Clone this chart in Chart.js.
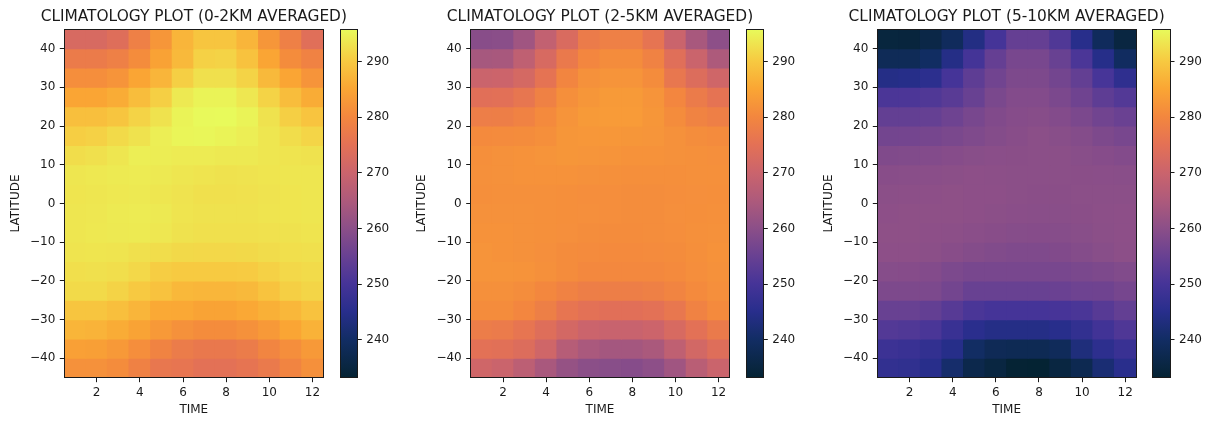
<!DOCTYPE html>
<html><head><meta charset="utf-8">
<script src="https://cdn.jsdelivr.net/npm/chart.js@4.4.1/dist/chart.umd.min.js"></script>
<style>
html,body{margin:0;padding:0;background:#fff;width:1210px;height:423px;overflow:hidden;position:relative}
canvas{position:absolute;top:0}
</style></head><body>
<script>
// ---------------- DATA ----------------
const months = [1, 2, 3, 4, 5, 6, 7, 8, 9, 10, 11, 12];
const latitudes = [42.5, 37.5, 32.5, 27.5, 22.5, 17.5, 12.5, 7.5, 2.5, -2.5, -7.5, -12.5, -17.5, -22.5, -27.5, -32.5, -37.5, -42.5];
const titles = ['CLIMATOLOGY PLOT (0-2KM AVERAGED)', 'CLIMATOLOGY PLOT (2-5KM AVERAGED)', 'CLIMATOLOGY PLOT (5-10KM AVERAGED)'];
const xTicks = [2, 4, 6, 8, 10, 12];
const yTicks = [-40, -30, -20, -10, 0, 10, 20, 30, 40];
const cbTicks = [240, 250, 260, 270, 280, 290];

// rows: north (42.5) -> south (-42.5); columns: months 1..12
const temp0to2km = [
  [272.5, 272.5, 274.0, 278.5, 282.5, 287.3, 289.5, 289.5, 287.3, 282.5, 278.5, 274.3],
  [277.5, 277.5, 278.5, 281.0, 284.5, 287.8, 291.0, 291.2, 289.0, 285.0, 281.0, 279.0],
  [281.3, 281.3, 282.2, 285.0, 287.3, 290.8, 292.8, 292.8, 291.2, 287.8, 285.0, 282.2],
  [285.0, 285.0, 286.0, 288.3, 290.8, 293.8, 295.0, 295.0, 293.6, 291.2, 288.3, 286.0],
  [288.6, 288.6, 289.5, 291.2, 293.0, 295.0, 295.7, 295.8, 295.0, 293.0, 290.8, 289.3],
  [290.6, 291.0, 292.0, 293.0, 294.4, 295.2, 295.3, 295.0, 294.4, 293.4, 292.4, 291.4],
  [292.4, 292.8, 293.4, 294.4, 294.3, 294.0, 294.0, 293.8, 293.8, 293.5, 293.2, 293.0],
  [293.4, 293.7, 293.9, 294.0, 293.8, 293.4, 293.2, 293.0, 293.1, 293.3, 293.5, 293.5],
  [293.3, 293.5, 293.7, 293.8, 293.5, 293.1, 292.8, 292.8, 292.9, 293.1, 293.3, 293.4],
  [293.4, 293.6, 293.9, 294.0, 293.8, 293.2, 293.0, 293.0, 293.0, 293.2, 293.3, 293.4],
  [293.5, 293.7, 293.8, 293.9, 293.6, 293.0, 292.8, 292.7, 292.8, 292.9, 293.0, 293.2],
  [293.2, 293.3, 293.2, 292.7, 292.4, 291.9, 291.8, 291.8, 291.9, 292.3, 292.6, 292.8],
  [292.6, 292.7, 292.5, 291.8, 290.5, 290.2, 290.1, 290.1, 290.3, 291.0, 291.8, 292.2],
  [292.0, 292.0, 291.2, 290.0, 289.0, 287.6, 287.4, 287.4, 287.8, 289.2, 290.8, 291.5],
  [289.5, 289.5, 288.6, 287.3, 285.6, 285.4, 284.6, 284.6, 285.4, 286.5, 287.5, 289.0],
  [287.2, 287.0, 286.0, 284.6, 283.0, 281.8, 281.0, 281.0, 281.8, 283.0, 285.0, 286.8],
  [284.2, 284.0, 283.0, 281.3, 279.3, 277.6, 276.8, 276.8, 277.6, 279.6, 281.3, 283.0],
  [281.8, 281.8, 281.0, 278.8, 276.5, 276.0, 275.0, 275.0, 275.8, 277.2, 279.5, 281.6]
];
const temp2to5km = [
  [259.5, 259.8, 263.0, 268.5, 273.0, 277.5, 278.5, 278.5, 275.8, 270.0, 264.2, 260.2],
  [264.0, 264.3, 268.0, 272.5, 277.0, 280.0, 281.0, 281.0, 279.0, 274.3, 270.0, 265.0],
  [270.0, 270.3, 272.0, 275.5, 279.8, 281.8, 282.3, 282.3, 281.0, 276.5, 273.6, 271.0],
  [274.5, 274.8, 276.3, 278.8, 281.5, 282.5, 283.3, 283.3, 282.3, 280.0, 277.5, 275.5],
  [278.0, 278.2, 279.0, 280.6, 282.2, 283.3, 283.4, 283.4, 282.6, 281.0, 279.2, 278.4],
  [280.6, 280.8, 281.0, 281.5, 282.5, 282.8, 282.8, 282.6, 282.4, 281.8, 281.2, 280.8],
  [281.5, 281.8, 282.0, 282.2, 282.5, 282.4, 282.2, 282.0, 282.0, 281.8, 281.6, 281.4],
  [281.6, 281.8, 282.0, 282.0, 282.0, 281.8, 281.6, 281.5, 281.5, 281.5, 281.6, 281.6],
  [281.5, 281.6, 281.6, 281.6, 281.5, 281.3, 281.3, 281.2, 281.2, 281.3, 281.4, 281.5],
  [281.8, 281.8, 281.7, 281.6, 281.5, 281.4, 281.3, 281.2, 281.2, 281.4, 281.5, 281.6],
  [282.0, 282.0, 281.8, 281.6, 281.4, 281.2, 281.0, 281.0, 281.1, 281.3, 281.6, 281.8],
  [282.2, 282.0, 281.8, 281.4, 281.0, 280.8, 280.6, 280.6, 280.8, 281.0, 281.5, 282.0],
  [282.2, 282.2, 282.1, 281.6, 281.0, 280.3, 280.3, 280.3, 280.3, 280.6, 281.3, 281.8],
  [281.6, 281.6, 281.2, 280.2, 279.0, 278.2, 278.2, 278.2, 278.6, 279.5, 280.6, 281.4],
  [281.0, 281.0, 280.0, 278.3, 276.0, 275.0, 274.5, 274.5, 275.0, 276.5, 279.0, 280.6],
  [277.8, 277.4, 276.0, 274.0, 271.8, 270.2, 269.6, 269.6, 270.3, 272.5, 275.0, 277.3],
  [275.0, 274.6, 273.6, 271.0, 266.5, 264.5, 263.6, 263.6, 264.6, 268.0, 271.6, 274.0],
  [271.0, 270.0, 267.6, 264.4, 261.5, 260.0, 259.6, 259.2, 260.2, 263.0, 267.0, 270.0]
];
const temp5to10km = [
  [234.8, 234.6, 236.0, 239.0, 244.0, 250.0, 254.5, 254.5, 251.5, 245.0, 239.0, 235.2],
  [238.3, 238.3, 239.8, 244.3, 249.8, 254.5, 257.3, 257.3, 255.0, 250.8, 244.7, 239.5],
  [244.3, 244.7, 245.8, 250.0, 253.6, 256.2, 258.0, 258.0, 256.5, 254.3, 250.3, 246.3],
  [250.8, 251.0, 251.5, 252.8, 255.0, 257.5, 258.8, 258.8, 257.7, 256.0, 253.6, 252.0],
  [254.3, 254.3, 254.6, 255.8, 257.3, 258.5, 259.2, 259.4, 258.8, 257.7, 256.2, 255.2],
  [256.6, 256.7, 257.0, 257.5, 258.2, 259.0, 259.5, 260.0, 259.6, 259.0, 258.0, 257.3],
  [258.4, 258.6, 258.8, 259.2, 259.6, 259.8, 259.9, 260.0, 260.0, 259.6, 259.2, 258.8],
  [259.5, 259.7, 259.8, 260.0, 260.2, 260.1, 260.0, 260.0, 260.0, 259.9, 259.8, 259.7],
  [260.0, 260.1, 260.2, 260.4, 260.3, 260.2, 260.0, 259.9, 259.9, 260.0, 260.0, 260.0],
  [260.3, 260.4, 260.4, 260.4, 260.2, 260.0, 259.8, 259.7, 259.7, 259.9, 260.1, 260.2],
  [260.4, 260.4, 260.3, 260.1, 259.8, 259.5, 259.3, 259.2, 259.3, 259.6, 260.0, 260.3],
  [260.3, 260.2, 260.0, 259.5, 259.0, 258.6, 258.3, 258.3, 258.5, 259.0, 259.6, 260.1],
  [259.3, 259.2, 258.8, 257.8, 257.3, 257.2, 257.2, 257.2, 257.3, 257.5, 258.0, 258.6],
  [258.0, 258.0, 257.8, 256.5, 255.0, 255.0, 255.0, 255.0, 255.2, 255.8, 256.0, 257.0],
  [255.0, 255.0, 254.3, 252.5, 250.7, 250.0, 250.0, 250.0, 250.2, 250.7, 252.5, 254.3],
  [252.0, 251.6, 250.7, 248.0, 245.5, 244.3, 244.3, 244.3, 245.0, 246.7, 249.2, 251.4],
  [248.4, 248.0, 246.7, 244.7, 240.0, 238.2, 237.8, 237.8, 238.7, 243.0, 246.0, 248.0],
  [246.7, 246.4, 245.0, 241.0, 236.8, 235.2, 233.4, 233.2, 235.2, 237.5, 242.0, 245.3]
];
const panels = [temp0to2km, temp2to5km, temp5to10km];

// ---------------- STYLE / LAYOUT ----------------
// approximation of the cmocean "thermal" colormap
const thermal = [
  [0.000, 4, 35, 51], [0.030, 9, 38, 64], [0.110, 18, 45, 100], [0.190, 40, 46, 140],
  [0.270, 70, 52, 152], [0.350, 105, 65, 146], [0.430, 140, 79, 136], [0.510, 174, 90, 123],
  [0.590, 203, 100, 108], [0.670, 228, 113, 85], [0.750, 243, 135, 62], [0.830, 250, 166, 52],
  [0.910, 247, 202, 65], [1.000, 232, 250, 91]
];
const allVals = panels.flat(2);
const vmin = Math.min(...allVals), vmax = Math.max(...allVals);
function cmap(t) {
  t = Math.max(0, Math.min(1, t));
  for (let i = 1; i < thermal.length; i++) {
    const a = thermal[i - 1], b = thermal[i];
    if (t <= b[0]) {
      const f = (t - a[0]) / (b[0] - a[0]);
      const c = [1, 2, 3].map(k => Math.round(a[k] + (b[k] - a[k]) * f));
      return `rgb(${c[0]},${c[1]},${c[2]})`;
    }
  }
  const l = thermal[thermal.length - 1];
  return `rgb(${l[1]},${l[2]},${l[3]})`;
}
const colorFor = v => cmap((v - vmin) / (vmax - vmin));
const fmt = v => (v < 0 ? '\u2212' + Math.abs(v) : String(v));

const H = 423, PLOT_TOP = 29.3, PLOT_BOTTOM = 377.7;
const geom = [
  {canvas: 0, left: 64.3, right: 323.3},
  {canvas: 406, left: 470.7, right: 729.3},
  {canvas: 813, left: 877.3, right: 1136.0}
];
const CB_GAP = 16.7, CB_W = 17.3, CANVAS_W = 392;
const INK = '#1a1a1a';
const FONT = "'DejaVu Sans', sans-serif";

Chart.defaults.font.family = FONT;
Chart.defaults.font.size = 12;
Chart.defaults.color = INK;
Chart.defaults.animation = false;
Chart.defaults.events = [];
Chart.defaults.plugins.legend.display = false;
Chart.defaults.plugins.tooltip.enabled = false;

const framePlugin = {
  id: 'frame',
  afterDatasetsDraw(chart) {
    const {ctx, chartArea: a} = chart;
    const l = Math.floor(a.left) + 0.5, r = Math.floor(a.right) + 0.5;
    const t = Math.floor(a.top) + 0.5, b = Math.floor(a.bottom) + 0.5;
    ctx.save();
    ctx.strokeStyle = INK; ctx.lineWidth = 1;
    ctx.strokeRect(l, t, r - l, b - t);
    ctx.restore();
  }
};

function makeCanvas(left, width) {
  const c = document.createElement('canvas');
  c.width = Math.round(width); c.height = H;
  c.style.left = left + 'px';
  document.body.appendChild(c);
  return c;
}

const latStep = Math.abs(latitudes[0] - latitudes[1]);
const monthStep = months[1] - months[0];
const yMin = Math.min(...latitudes) - latStep / 2, yMax = Math.max(...latitudes) + latStep / 2;
const tickGrid = {drawOnChartArea: false, drawTicks: true, tickLength: 4.5, color: INK, lineWidth: 1};

panels.forEach((vals, p) => {
  const g = geom[p];
  const yW = g.left - g.canvas;
  const cv = makeCanvas(g.canvas, CANVAS_W);
  const datasets = latitudes.map((lat, r) => ({
    data: months.map(m => ({x: m, y: [lat - latStep / 2, lat + latStep / 2]})),
    backgroundColor: vals[r].map(colorFor),
    borderWidth: 0,
    grouped: false,
    barPercentage: 1,
    categoryPercentage: 1,
    inflateAmount: 0.5,
    base: yMin - 100   // keep the zero line from being treated as the bar base (avoids a seam at 0)
  }));
  new Chart(cv, {
    type: 'bar',
    data: {datasets},
    options: {
      responsive: false,
      layout: {padding: {left: 0, top: 0, bottom: 0, right: CANVAS_W - (g.right - g.canvas) - yW}},
      plugins: {
        title: {
          display: true, text: titles[p], color: INK,
          font: {family: FONT, size: 15.4, weight: 'normal', lineHeight: 1.2},
          padding: {top: PLOT_TOP - 18.48 - 3.4, bottom: 3.4}
        }
      },
      scales: {
        x: {
          type: 'linear', offset: false,
          min: months[0] - monthStep / 2, max: months[months.length - 1] + monthStep / 2,
          afterBuildTicks: s => { s.ticks = xTicks.map(v => ({value: v})); },
          afterFit: s => { s.height = H - PLOT_BOTTOM; },
          ticks: {padding: 3, maxRotation: 0, autoSkip: false, callback: v => fmt(v)},
          grid: {...tickGrid, offset: false},
          border: {display: false},
          title: {display: true, text: 'TIME', color: INK, font: {size: 12}, padding: {top: 0, bottom: 6}}
        },
        y: {
          type: 'linear', min: yMin, max: yMax,
          afterBuildTicks: s => { s.ticks = yTicks.map(v => ({value: v})); },
          afterFit: s => { s.width = yW; },
          ticks: {padding: 4.5, callback: v => fmt(v)},
          grid: tickGrid,
          border: {display: false},
          title: {display: true, text: 'LATITUDE', color: INK, font: {size: 12}, padding: {top: 9, bottom: 0}}
        },
        // invisible spacer on the right so the title centres over the plot area
        ySpacer: {
          type: 'linear', position: 'right', display: true,
          ticks: {display: false}, grid: {display: false}, border: {display: false},
          afterFit: s => { s.width = yW; }
        }
      }
    },
    plugins: [framePlugin]
  });

  // colorbar
  const cbLeft = g.right + CB_GAP;
  const cbCanvasLeft = Math.floor(cbLeft);
  const cbCanvasW = 60;
  const cbc = makeCanvas(cbCanvasLeft, cbCanvasW);
  const padLeft = cbLeft - cbCanvasLeft;
  const cbChart = new Chart(cbc, {
    type: 'bar',
    data: {
      labels: ['colorbar'],
      datasets: [{
        data: [[vmin, vmax]],
        borderWidth: 0, barPercentage: 1, categoryPercentage: 1, inflateAmount: 0,
        backgroundColor: ctx => {
          const ys = ctx.chart.scales.y;
          if (!ys || !ctx.chart.chartArea) return 'rgba(0,0,0,0)';
          const y0 = ys.getPixelForValue(vmin), y1 = ys.getPixelForValue(vmax);
          if (!isFinite(y0) || !isFinite(y1) || y0 === y1) return 'rgba(0,0,0,0)';
          const grad = ctx.chart.ctx.createLinearGradient(0, y0, 0, y1);
          thermal.forEach(s => grad.addColorStop(s[0], `rgb(${s[1]},${s[2]},${s[3]})`));
          return grad;
        }
      }]
    },
    options: {
      responsive: false,
      layout: {padding: {left: padLeft, top: PLOT_TOP, bottom: H - PLOT_BOTTOM, right: 0}},
      scales: {
        x: {display: false},
        y: {
          position: 'right', min: vmin, max: vmax,
          afterBuildTicks: s => { s.ticks = cbTicks.map(v => ({value: v})); },
          afterFit: s => { s.width = cbCanvasW - padLeft - CB_W; },
          ticks: {padding: 4.5, callback: v => fmt(v)},
          grid: tickGrid,
          border: {display: false}
        }
      }
    },
    plugins: [framePlugin]
  });
  cbChart.update('none');
});
</script>
</body></html>
